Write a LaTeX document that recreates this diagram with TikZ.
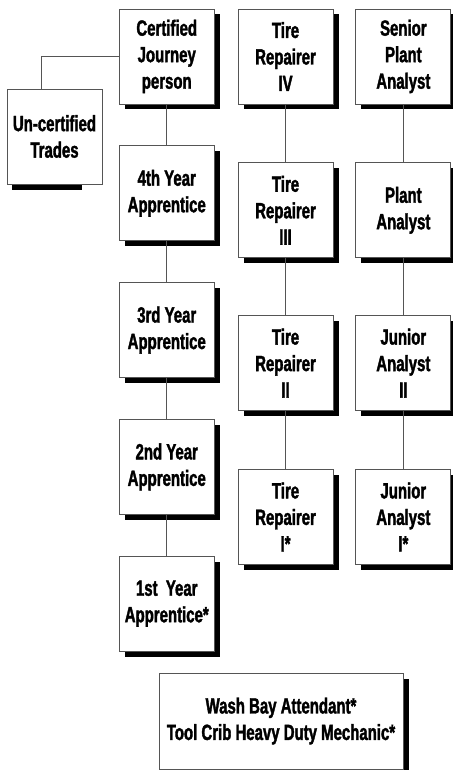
\documentclass[tikz,border=0pt]{standalone}
\usepackage{fontspec}
\newfontfamily\jobfont{Liberation Sans}[UprightFont=* Bold,FakeStretch=0.68,FakeBold=1.6]
\usepackage{tikz}
\usetikzlibrary{positioning,shadows}
\definecolor{linegray}{RGB}{85,85,85}

\begin{document}
\begin{tikzpicture}[
  x=1pt,y=1pt,
  node distance=41pt and 23pt,
  job/.style={draw=linegray,line width=0.8pt,fill=white,align=center,
    minimum width=95pt,minimum height=95pt,inner sep=0pt,
    font=\jobfont\fontsize{22}{26.5}\selectfont},
  shade/.style={drop shadow={shadow xshift=5.5pt,shadow yshift=-5.5pt,
    fill=black,opacity=1}},
  link/.style={draw=linegray,line width=0.9pt}
]
\useasboundingbox (0,0) rectangle (452,-770);
% apprentice ladder
\node[job,shade] (cert) at (166.75,-56.5) {Certified\\Journey\\person};
\node[job,shade,below=of cert] (yr4) {4th Year\\Apprentice};
\node[job,shade,below=of yr4] (yr3) {3rd Year\\Apprentice};
\node[job,shade,below=of yr3] (yr2) {2nd Year\\Apprentice};
\node[job,shade,below=of yr2] (yr1) {1st\ \ Year\\Apprentice*};
\node[job] (uncert) at (54.5,-136.5) {Un-certified\\Trades};
\fill ([xshift=5pt,yshift=-0.4pt]uncert.south west)
  rectangle ([xshift=-20pt,yshift=-6pt]uncert.south east);
% tire repairers
\node[job,shade,right=of cert] (tire4) {Tire\\Repairer\\IV};
\node[job,shade,below=58pt of tire4] (tire3) {Tire\\Repairer\\III};
\node[job,shade,below=57pt of tire3] (tire2) {Tire\\Repairer\\II};
\node[job,shade,below=58pt of tire2] (tire1) {Tire\\Repairer\\I*};
% analysts
\node[job,shade,right=22pt of tire4] (senior) {Senior\\Plant\\Analyst};
\node[job,shade,below=58pt of senior] (plant) {Plant\\Analyst};
\node[job,shade,below=57pt of plant] (jun2) {Junior\\Analyst\\II};
\node[job,shade,below=58pt of jun2] (jun1) {Junior\\Analyst\\I*};
% entry jobs
\node[job,shade,minimum width=244pt,minimum height=96pt] (entry) at (281,-721)
  {Wash Bay Attendant*\\Tool Crib Heavy Duty Mechanic*};
\draw[link] (cert.west) -| ([xshift=-13.5pt]uncert.north);
\draw[link] (cert) -- (yr4);
\draw[link] (yr4) -- (yr3);
\draw[link] (yr3) -- (yr2);
\draw[link] (yr2) -- (yr1);
\draw[link] (tire4) -- (tire3);
\draw[link] (tire3) -- (tire2);
\draw[link] (tire2) -- (tire1);
\draw[link] (senior) -- (plant);
\draw[link] (plant) -- (jun2);
\draw[link] (jun2) -- (jun1);
\end{tikzpicture}
\end{document}
